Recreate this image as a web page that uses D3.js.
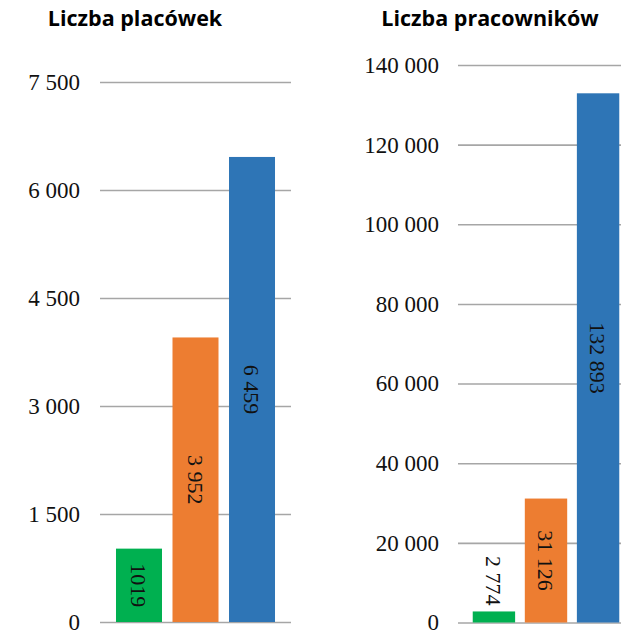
<!DOCTYPE html>
<html>
<head>
<meta charset="utf-8">
<title>Liczba placówek i pracowników</title>
<script src="https://d3js.org/d3.v7.min.js"></script>
<style>
  body { margin: 0; background: #fff; }
  svg { display: block; }
</style>
</head>
<body>
<div id="chart"></div>
<script>
// dane
var grupy = ["grupa 1", "grupa 2", "grupa 3"];
var kolory = ["#00b050", "#ed7d31", "#2e75b6"];

var placowki = [1019, 3952, 6459];
var placowkiEtykiety = ["1019", "3 952", "6 459"];
var placowkiTicks = [0, 1500, 3000, 4500, 6000, 7500];

var pracownicy = [2774, 31126, 132893];
var pracownicyEtykiety = ["2 774", "31 126", "132 893"];
var pracownicyTicks = [0, 20000, 40000, 60000, 80000, 100000, 120000, 140000];

var W = 621, H = 632;
var serif = "'Liberation Serif', 'Times New Roman', serif";
var sans = "'Open Sans', sans-serif";
var fmt = function(d) { return d3.format(",")(d).replace(/,/g, " "); };

var svg = d3.select("#chart").append("svg")
    .attr("width", W)
    .attr("height", H);

function panel(opts) {
    var g = svg.append("g");

    var x = d3.scaleBand()
        .domain(grupy)
        .range([opts.x0, opts.x1])
        .paddingInner(0.186)
        .paddingOuter(0.283);

    var y = d3.scaleLinear()
        .domain([0, opts.max])
        .range([opts.y0, opts.y1]);

    var axis = d3.axisLeft(y)
        .tickValues(opts.ticks)
        .tickSize(-(opts.gridEnd - opts.x0))
        .tickPadding(opts.pad)
        .tickFormat(fmt);

    var ax = g.append("g")
        .attr("transform", "translate(" + opts.x0 + ",0)")
        .call(axis);
    ax.select(".domain").remove();
    ax.selectAll(".tick line")
        .style("stroke", "#a6a6a6")
        .style("stroke-width", "1.6px");
    ax.selectAll(".tick text")
        .style("font-family", serif)
        .style("font-size", "23px")
        .style("fill", "#111");

    g.selectAll("rect.bar")
        .data(opts.values)
        .enter().append("rect")
        .attr("class", "bar")
        .attr("x", function(d, i) { return x(grupy[i]); })
        .attr("width", x.bandwidth())
        .attr("y", function(d) { return y(d); })
        .attr("height", function(d) { return y(0) - y(d); })
        .attr("fill", function(d, i) { return kolory[i]; });

    // etykiety wartosci, obrocone o 90 stopni
    g.selectAll("text.val")
        .data(opts.values)
        .enter().append("text")
        .attr("class", "val")
        .style("font-family", serif)
        .style("font-size", "22px")
        .style("fill", "#111")
        .attr("dy", "0.35em")
        .text(function(d, i) { return opts.labels[i]; })
        .each(function(d, i) {
            var t = d3.select(this);
            var len = this.getComputedTextLength();
            var cx = x(grupy[i]) + x.bandwidth() / 2;
            var h = y(0) - y(d);
            if (h > len + 16) {
                t.attr("text-anchor", "middle")
                 .attr("transform", "translate(" + cx + "," + (y(d) + h / 2) + ") rotate(90)");
            } else {
                t.attr("text-anchor", "end")
                 .attr("transform", "translate(" + cx + "," + (y(d) - 6) + ") rotate(90)");
            }
        });

    g.append("text")
        .style("font-family", sans)
        .style("font-weight", 700)
        .style("font-size", "21.5px")
        .attr("x", opts.titleX)
        .attr("y", 26)
        .attr("text-anchor", "middle")
        .text(opts.title);
}

panel({
    title: "Liczba placówek", titleX: 135,
    values: placowki, labels: placowkiEtykiety, ticks: placowkiTicks, max: 7500,
    x0: 100, x1: 291, gridEnd: 291, y0: 622, y1: 82, pad: 20
});

panel({
    title: "Liczba pracowników", titleX: 490,
    values: pracownicy, labels: pracownicyEtykiety, ticks: pracownicyTicks, max: 140000,
    x0: 458, x1: 634, gridEnd: 634, y0: 622.5, y1: 65, pad: 19
});
</script>
</body>
</html>
